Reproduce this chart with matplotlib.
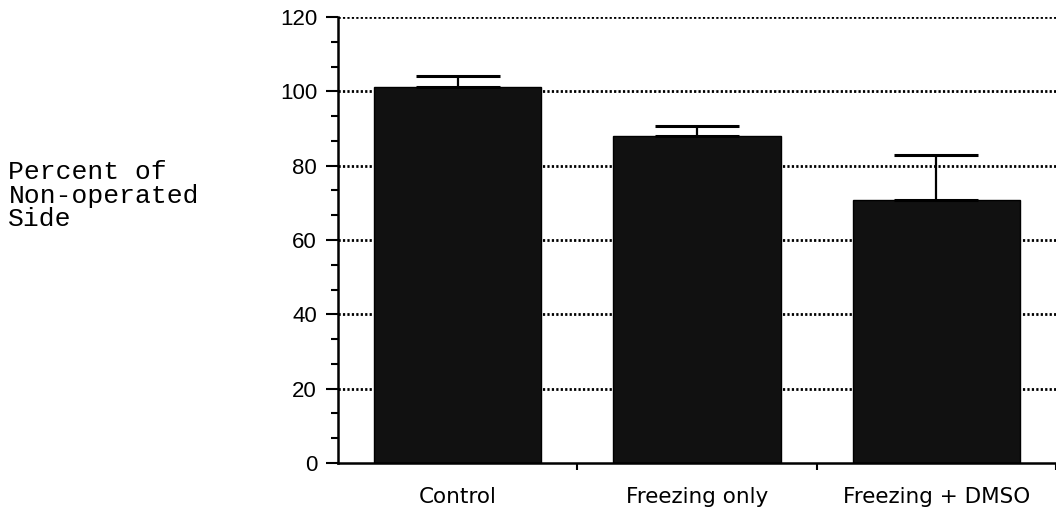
import matplotlib
matplotlib.use("Agg")
import matplotlib.pyplot as plt
import numpy as np

categories = ["Control", "Freezing only", "Freezing + DMSO"]
values = [101.2, 88.0, 70.8]
err_upper = [2.9, 2.7, 12.1]
yticks = [0, 20, 40, 60, 80, 100, 120]

fig = plt.figure(figsize=(10.56, 5.12), dpi=100)
ax = fig.add_axes([0.320, 0.0957, 0.680, 0.8711])

x = np.arange(len(categories))
for yv in yticks[1:]:
    ax.axhline(yv, color="black", lw=2.0, ls=(0, (0.8, 0.8)), zorder=1)
ax.bar(x, values, width=0.70, color="#111111", edgecolor="black", zorder=2)
ax.errorbar(x, values, yerr=[np.zeros(len(values)), err_upper], fmt="none",
            ecolor="black", elinewidth=1.6, capsize=30, capthick=2.2, zorder=3)

ax.set_xlim(-0.5, 2.5)
ax.set_ylim(0, 120)
ax.set_yticks(yticks)
ax.set_yticks(np.arange(0, 120, 20 / 3), minor=True)
ax.set_xticks(x)
ax.set_xticklabels(categories, fontfamily="DejaVu Sans", fontsize=15.5)
ax.set_xticks([0.5, 1.5, 2.5], minor=True)
ax.tick_params(axis="x", which="major", length=0, pad=17)
ax.tick_params(axis="x", which="minor", length=5, width=1.5, direction="out")
ax.tick_params(axis="y", which="major", length=9, width=1.5, pad=6, labelsize=16)
ax.tick_params(axis="y", which="minor", length=5, width=1.5)
for lab in ax.get_yticklabels():
    lab.set_fontfamily("Liberation Sans")

for s in ["top", "right"]:
    ax.spines[s].set_visible(False)
for s in ["left", "bottom"]:
    ax.spines[s].set_linewidth(1.8)

ylabel_lines = ["Percent of", "Non-operated", "Side"]
for i, line in enumerate(ylabel_lines):
    fig.text(0.008, 1 - (172 + 23.5 * i) / 512, line, family="Liberation Mono",
             fontsize=19, va="center", ha="left")

fig.savefig("out.png", dpi=100)
